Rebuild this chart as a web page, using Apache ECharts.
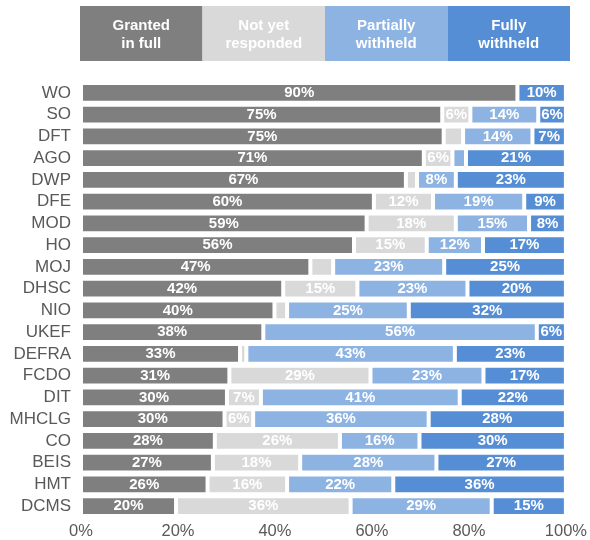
<!DOCTYPE html>
<html><head><meta charset="utf-8">
<script src="https://cdn.jsdelivr.net/npm/echarts@6/dist/echarts.min.js"></script>
<style>html,body{margin:0;padding:0;background:#fff}#c{width:590px;height:540px}</style>
</head><body><div id="c"></div>
<script>
const categories = ['WO','SO','DFT','AGO','DWP','DFE','MOD','HO','MOJ','DHSC','NIO','UKEF','DEFRA','FCDO','DIT','MHCLG','CO','BEIS','HMT','DCMS'];
const seriesNames = ['Granted\nin full','Not yet\nresponded','Partially\nwithheld','Fully\nwithheld'];
const granted = [90, 74.5, 74.8, 70.7, 67.0, 60.4, 58.9, 56.3, 47.3, 41.7, 39.9, 37.6, 32.8, 30.6, 30.1, 29.6, 27.6, 27.2, 26.1, 19.6];
const notYet  = [0, 5.8, 4.0, 5.9, 2.3, 12.2, 18.4, 15.0, 4.7, 15.3, 2.6, 0, 1.3, 29.1, 7.0, 5.9, 25.8, 18.0, 16.4, 36.0];
const partial = [0, 14.0, 14.3, 2.8, 8.0, 18.8, 15.1, 11.6, 22.9, 22.7, 25.1, 56.4, 43.0, 23.3, 41.0, 36.2, 16.4, 28.1, 21.9, 29.1];
const fully   = [10, 5.7, 6.9, 20.6, 22.7, 8.6, 7.6, 17.1, 25.1, 20.3, 32.4, 6.0, 22.9, 17.0, 21.9, 28.3, 30.2, 26.7, 35.6, 15.3];
const xTicks = [0, 20, 40, 60, 80, 100];

const colors = ['#7f7f7f', '#d9d9d9', '#8db3e2', '#558ed5'];
const allData = [granted, notYet, partial, fully];
const FONT = '"Liberation Sans", Arial, sans-serif';

const chart = echarts.init(document.getElementById('c'), null, {renderer: 'canvas'});

const legendLeft = 80, legendTop = 6, legendW = 490, legendH = 55;
const graphic = seriesNames.map((n, i) => ({
  type: 'group',
  left: legendLeft + i * legendW / 4,
  top: legendTop,
  children: [
    {type: 'rect', shape: {x: 0, y: 0, width: legendW / 4, height: legendH}, style: {fill: colors[i]}},
    {type: 'text', x: legendW / 8, y: legendH / 2 + 1,
     style: {text: n, fill: '#fff', font: 'bold 15px ' + FONT, align: 'center', verticalAlign: 'middle', lineHeight: 18}}
  ]
}));

chart.setOption({
  backgroundColor: '#fff',
  animation: false,
  graphic: graphic,
  grid: {left: 81, right: 21, top: 82, bottom: 22},
  xAxis: {
    type: 'value', min: xTicks[0], max: xTicks[xTicks.length - 1], interval: 20,
    axisLine: {show: false}, axisTick: {show: false}, splitLine: {show: false},
    axisLabel: {formatter: '{value}%', color: '#595959', fontSize: 16.5, fontFamily: FONT, margin: 6}
  },
  yAxis: {
    type: 'category', data: categories, inverse: true,
    axisLine: {show: false}, axisTick: {show: false},
    axisLabel: {interval: 0, color: '#595959', fontSize: 17, fontFamily: FONT, margin: 10}
  },
  series: allData.map((d, i) => ({
    name: seriesNames[i], type: 'bar', stack: 'all', data: d,
    barCategoryGap: '9%',
    itemStyle: {color: colors[i], borderColor: '#fff', borderWidth: 2},
    label: {
      show: true, position: 'inside', color: '#fff', fontWeight: 'bold', fontSize: 15, fontFamily: FONT,
      formatter: p => p.value >= 5 ? Math.round(p.value) + '%' : ''
    }
  }))
});
</script></body></html>
